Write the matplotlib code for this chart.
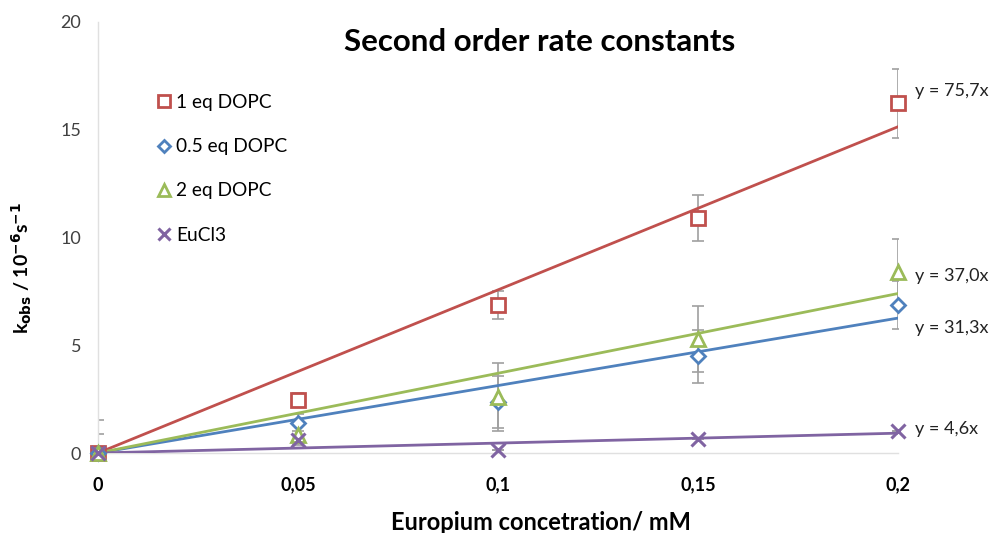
import matplotlib
matplotlib.use("Agg")
import matplotlib.pyplot as plt

plt.rcParams['font.family'] = ['Lato', 'DejaVu Sans']
plt.rcParams['mathtext.default'] = 'regular'

x = [0, 0.05, 0.1, 0.15, 0.2]
x_ticklabels = ['0', '0,05', '0,1', '0,15', '0,2']
y_ticks = [0, 5, 10, 15, 20]

red = [0, 2.48, 6.87, 10.89, 16.24]
red_err = [0, 0.3, 0.67, 1.07, 1.6]
blue = [0, 1.40, 2.35, 4.48, 6.87]
blue_err = [0.9, 0.4, 1.2, 1.24, 1.13]
green = [0, 0.85, 2.60, 5.30, 8.38]
green_err = [1.55, 0.5, 1.58, 1.53, 1.55]
purple = [0, 0.60, 0.15, 0.65, 1.00]
purple_err = [0, 0, 0, 0, 0]

names = ['1 eq DOPC', '0.5 eq DOPC', '2 eq DOPC', 'EuCl3']
slopes = [75.7, 31.3, 37.0, 4.6]
eq_labels = ['y = 75,7x', 'y = 31,3x', 'y = 37,0x', 'y = 4,6x']
eq_label_y = [16.8, 5.8, 8.21, 1.11]

colors = ['#C0504D', '#4F81BD', '#9BBB59', '#8064A2']
markers = ['s', 'D', '^', 'x']
msizes = [10, 7.5, 10, 10]
series = [red, blue, green, purple]
errs = [red_err, blue_err, green_err, purple_err]

fig = plt.figure(figsize=(9.97, 5.33), dpi=100)
ax = fig.add_axes([98/997, 80/533, 800/997, 431/533])

# error bars first
for ys, e in zip(series, errs):
    ax.errorbar(x, ys, yerr=e, fmt='none', ecolor='#A0A0A0', elinewidth=1.2,
                capsize=4, capthick=1.2, zorder=2)

# trend lines
for s, c in zip(slopes, colors):
    ax.plot([x[0], x[-1]], [s * x[0], s * x[-1]], color=c, lw=2.0, zorder=3)

handles = []
for ys, c, m, ms, n in zip(series, colors, markers, msizes, names):
    if m == 'x':
        h, = ax.plot(x, ys, linestyle='none', marker=m, ms=ms, mec=c, mew=2.2,
                     color=c, clip_on=False, zorder=4, label=n)
    else:
        h, = ax.plot(x, ys, linestyle='none', marker=m, ms=ms, mec=c, mfc='white',
                     mew=2.0, clip_on=False, zorder=4, label=n)
    handles.append(h)

for lab, yv in zip(eq_labels, eq_label_y):
    ax.annotate(lab, xy=(0.2, yv), xytext=(12, 0), textcoords='offset points',
                ha='left', va='center', fontsize=13, color='#222222',
                annotation_clip=False)

ax.set_xlim(0, 0.2)
ax.set_ylim(0, 20)
ax.set_xticks(x)
ax.set_xticklabels(x_ticklabels, fontsize=13, fontweight='bold', color='black')
ax.set_yticks(y_ticks)
ax.set_yticklabels([str(v) for v in y_ticks], fontsize=13, color='#404040')
ax.tick_params(axis='both', length=0)
ax.tick_params(axis='x', pad=17)
ax.tick_params(axis='y', pad=12)

for sp in ['top', 'right']:
    ax.spines[sp].set_visible(False)
ax.spines['left'].set_color('#E0E0E0')
ax.spines['bottom'].set_color('#E0E0E0')
ax.spines['left'].set_linewidth(1.0)
ax.spines['bottom'].set_linewidth(1.0)

ax.set_xlabel('Europium concetration/ mM', fontsize=17, fontweight='bold')
ax.xaxis.set_label_coords((541 - 98) / 800, (453 - 522) / 431)
ax.xaxis.label.set_va('center')
ax.set_ylabel(r'k$_{\mathbf{obs}}$ / 10$^{\mathbf{-6}}$s$^{\mathbf{-1}}$', fontsize=14,
              fontweight='bold')
ax.yaxis.set_label_coords((22 - 98) / 800, (453 - 268) / 431)
ax.yaxis.label.set_va('center')

fig.text(540/997, 1 - 42/533, 'Second order rate constants', ha='center', va='center',
         fontsize=22.5, fontweight='bold')

leg = fig.legend(handles=handles, loc='upper left', bbox_to_anchor=(157/997, 1 - 94/533),
                 frameon=False, fontsize=13.8, handlelength=0.7, handletextpad=0.3,
                 labelspacing=1.42, borderaxespad=0, borderpad=0, markerscale=0.85)

fig.savefig('out.png', dpi=100)
